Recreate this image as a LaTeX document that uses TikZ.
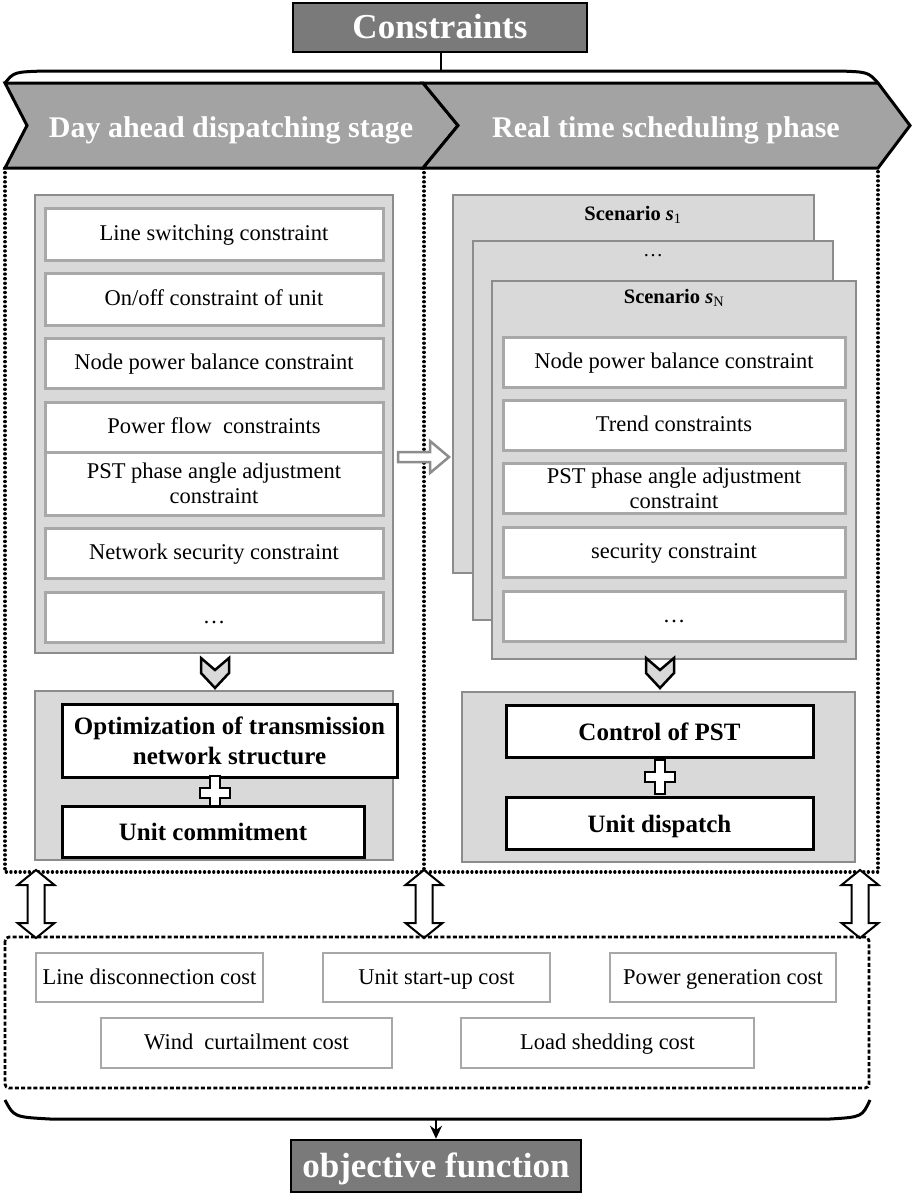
\documentclass[tikz,border=0pt]{standalone}
\usepackage{fontspec}
\setmainfont{Liberation Serif}
\usetikzlibrary{arrows.meta,calc}
\definecolor{hdrgray}{gray}{0.48}
\definecolor{bandgray}{gray}{0.64}
\definecolor{panelgray}{gray}{0.85}
\definecolor{rimgray}{gray}{0.55}
\definecolor{linegray}{gray}{0.66}

\begin{document}
\begin{tikzpicture}[x=1pt,y=-1pt,
  head/.style={draw,line width=2.5pt,fill=hdrgray,text=white,inner sep=0pt,text height=23pt,text depth=1pt,font=\fontsize{35}{40}\selectfont\bfseries},
  band/.style={draw,line width=3pt,fill=bandgray,line join=miter},
  bandtext/.style={text=white,inner sep=0pt,text height=21pt,text depth=1pt,font=\fontsize{30}{34}\selectfont\bfseries},
  panel/.style={draw=rimgray,line width=2.5pt,fill=panelgray,inner sep=0pt},
  cbox/.style={draw=linegray,line width=3pt,fill=white,inner sep=0pt,minimum width=338pt,align=center,font=\fontsize{22.5}{25}\selectfont},
  oneline/.style={text height=16.5pt,text depth=3.5pt},
  bbox/.style={draw,line width=3pt,fill=white,inner sep=0pt,align=center,font=\fontsize{25}{30}\selectfont\bfseries},
  cost/.style={draw=linegray,line width=2.5pt,fill=white,inner sep=0pt,oneline,font=\fontsize{22.5}{25}\selectfont},
  slabel/.style={inner sep=0pt,font=\fontsize{20.5}{24}\selectfont\bfseries},
  dotline/.style={line width=3.4pt,line cap=round,dash pattern=on 0.01pt off 4.6pt},
  dashline/.style={line width=2.8pt,dash pattern=on 4pt off 2.2pt},
  brace/.style={line width=3pt},
  dblarrow/.pic={\draw[line width=2pt,fill=white] (0,0) -- (18.5,15) -- (8.5,15) -- (8.5,53) -- (18.5,53) -- (0,68)
      -- (-18.5,53) -- (-8.5,53) -- (-8.5,15) -- (-18.5,15) -- cycle;},
  chevdown/.pic={\draw[line width=2.5pt,fill=panelgray,line join=miter] (-14,-15) -- (0,-3) -- (14,-15) -- (14,0) -- (0,15) -- (-14,0) -- cycle;},
  plussign/.pic={\draw[line width=2.5pt,fill=white] (-5,-17) -- (5,-17) -- (5,-5) -- (15,-5) -- (15,5) -- (5,5) -- (5,17)
      -- (-5,17) -- (-5,5) -- (-15,5) -- (-15,-5) -- (-5,-5) -- cycle;}]

 \fill[white] (0,0) rectangle (913,1194);

 % headers and brackets
 \node[head,minimum width=294pt,minimum height=49pt] (C) at (440,27.5) {Constraints};
 \node[head,minimum width=290pt,minimum height=52pt] (O) at (436,1166) {objective function};
 \draw[brace] (5,83) .. controls (14,72) .. (44,71) -- (840,71) .. controls (868,72) .. (878,83);
 \draw[brace] (5,1100) .. controls (14,1117) .. (50,1119) -- (830,1119) .. controls (862,1117) .. (870,1100);
 \coordinate (ctop) at (441,71);
 \coordinate (obot) at (436,1119);
 \draw[line width=2.5pt] (C.south -| ctop) -- (ctop);
 \draw[line width=2.5pt,-{Stealth[length=13pt,width=12pt]}] (obot) -- (O.north -| obot);

 % stage bands
 \draw[band] (5,83) -- (423,83) -- (458,125.5) -- (423,168) -- (5,168) -- (27,125.5) -- cycle;
 \draw[band] (423,83) -- (878,83) -- (910,125.5) -- (878,168) -- (423,168) -- (458,125.5) -- cycle;
 \node[bandtext] (day)  at (231,127) {Day ahead dispatching stage};
 \node[bandtext] (real) at (666,127) {Real time scheduling phase};

 \draw[dotline] (5,168) -- (5,872) -- (878,872) -- (878,168);
 \draw[dotline] (424,168) -- (424,872);

 % day ahead column
 \node[panel,minimum width=358pt,minimum height=458pt] (dpanel) at (214,424) {};
 \node[cbox,oneline,minimum height=52pt] (d1) at (214,234)   {Line switching constraint};
 \node[cbox,oneline,minimum height=52pt] (d2) at (214,299)   {On/off constraint of unit};
 \node[cbox,oneline,minimum height=50pt] (d3) at (214,363)   {Node power balance constraint};
 \node[cbox,oneline,minimum height=50pt] (d4) at (214,427)   {Power flow\ \ constraints};
 \node[cbox,minimum height=63pt]         (d5) at (214,483.5) {PST phase angle adjustment\\constraint};
 \node[cbox,oneline,minimum height=50pt] (d6) at (214,553)   {Network security constraint};
 \node[cbox,oneline,minimum height=50pt] (d7) at (214,617)   {\dots};

 \pic at (215,673) {chevdown};
 \node[panel,minimum width=358pt,minimum height=169pt] (dres) at (214,775.5) {};
 \node[bbox,minimum width=335pt,minimum height=73pt] (uopt) at (229.5,740.5) {Optimization of transmission\\network structure};
 \pic at (215,793) {plussign};
 \node[bbox,text height=19pt,text depth=1pt,minimum width=302pt,minimum height=51pt] (ucom) at (213,831.5) {Unit commitment};

 % real time column
 \node[panel,minimum width=361pt,minimum height=378pt] (s1) at (633.5,384)   {};
 \node[slabel] (s1t) at (633,215) {Scenario \textit{s}\textsubscript{\normalfont 1}};
 \node[panel,minimum width=360pt,minimum height=379pt] (sd) at (653,430.5)   {};
 \node[slabel,font=\fontsize{20}{24}\selectfont] (sdt) at (653,256) {\dots};
 \node[panel,minimum width=364pt,minimum height=378pt] (sN) at (674,470)     {};
 \node[slabel] (sNt) at (674,298) {Scenario \textit{s}\textsubscript{\normalfont N}};
 \node[cbox,oneline,minimum width=342pt,minimum height=50pt] (r1) at (674,362) {Node power balance constraint};
 \node[cbox,oneline,minimum width=342pt,minimum height=50pt] (r2) at (674,425) {Trend constraints};
 \node[cbox,minimum width=342pt,minimum height=50pt]         (r3) at (674,488) {PST phase angle adjustment\\constraint};
 \node[cbox,oneline,minimum width=342pt,minimum height=50pt] (r4) at (674,552) {security constraint};
 \node[cbox,oneline,minimum width=342pt,minimum height=50pt] (r5) at (674,616) {\dots};

 \pic at (660,673) {chevdown};
 \node[panel,minimum width=393pt,minimum height=170pt] (rres) at (658.5,777) {};
 \node[bbox,text height=19pt,text depth=1pt,minimum width=307pt,minimum height=52pt] (pst)  at (659.5,731) {Control of PST};
 \pic at (660,777) {plussign};
 \node[bbox,text height=19pt,text depth=1pt,minimum width=307pt,minimum height=52pt] (udis) at (659.5,823) {Unit dispatch};

 % day ahead -> real time
 \draw[draw=rimgray,line width=2.5pt,fill=white,line join=miter] (398,452) -- (430,452) -- (430,441) -- (449,457)
      -- (430,473) -- (430,462) -- (398,462) -- cycle;

 % link to objective terms
 \pic at (36,870) {dblarrow};
 \pic at (424,870) {dblarrow};
 \pic at (860,870) {dblarrow};

 \draw[dashline,rounded corners=4pt] (5,937) rectangle (869,1088);
 \node[cost,minimum width=227pt,minimum height=49pt] (c1) at (149.5,977.5) {Line disconnection cost};
 \node[cost,minimum width=227pt,minimum height=49pt] (c2) at (436.5,977.5) {Unit start-up cost};
 \node[cost,minimum width=226pt,minimum height=49pt] (c3) at (723,977.5)   {Power generation cost};
 \node[cost,minimum width=291pt,minimum height=50pt] (c4) at (246.5,1043)  {Wind\ \ curtailment cost};
 \node[cost,minimum width=293pt,minimum height=50pt] (c5) at (607.5,1043)  {Load shedding cost};
\end{tikzpicture}
\end{document}
